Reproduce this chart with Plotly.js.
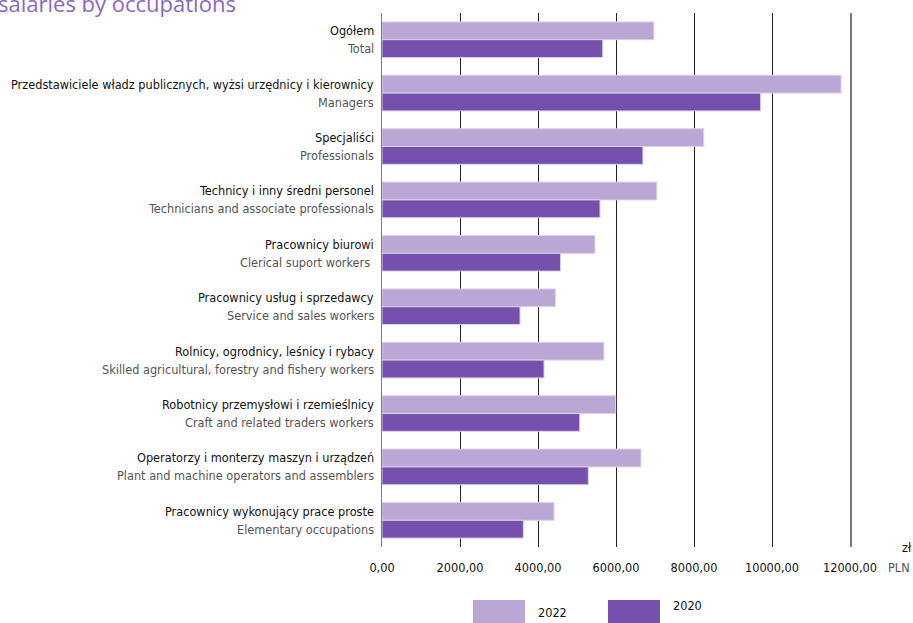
<!DOCTYPE html>
<html>
<head>
<meta charset="utf-8">
<script src="https://cdn.plot.ly/plotly-3.0.1.min.js"></script>
<style>html,body{margin:0;padding:0;background:#fff;}#chart{width:913px;height:623px;}</style>
</head>
<body>
<div id="chart"></div>
<script>
const categoriesPL = [
  "Ogółem",
  "Przedstawiciele władz publicznych, wyżsi urzędnicy i kierownicy",
  "Specjaliści",
  "Technicy i inny średni personel",
  "Pracownicy biurowi",
  "Pracownicy usług i sprzedawcy",
  "Rolnicy, ogrodnicy, leśnicy i rybacy",
  "Robotnicy przemysłowi i rzemieślnicy",
  "Operatorzy i monterzy maszyn i urządzeń",
  "Pracownicy wykonujący prace proste"
];
const categoriesEN = [
  "Total",
  "Managers",
  "Professionals",
  "Technicians and associate professionals",
  "Clerical suport workers ",
  "Service and sales workers",
  "Skilled agricultural, forestry and fishery workers",
  "Craft and related traders workers",
  "Plant and machine operators and assemblers",
  "Elementary occupations"
];
const values2022 = [6970, 11770, 8250, 7045, 5460, 4445, 5690, 5990, 6640, 4410];
const values2020 = [5660, 9710, 6690, 5590, 4580, 3540, 4155, 5070, 5290, 3625];
const seriesNames = ["2022", "2020"];
const tickValues = [0, 2000, 4000, 6000, 8000, 10000, 12000];

const colors = ["#BAA7D5", "#7551AD"];
const labelFont = "'DejaVu Sans Condensed', 'Liberation Sans Narrow', sans-serif";
const fs = 12.6;

const traces = [values2022, values2020].map((vals, i) => ({
  type: "bar",
  orientation: "h",
  name: seriesNames[i],
  x: vals,
  y: categoriesPL,
  marker: {color: colors[i], line: {color: "#DCD2EA", width: 1}},
  hoverinfo: "x+y"
}));

const annotations = [];
categoriesPL.forEach((c, i) => {
  annotations.push({xref: "paper", yref: "y", x: -0.012, y: c, xanchor: "right", yanchor: "middle",
    yshift: 9, text: c, showarrow: false, font: {family: labelFont, size: fs, color: "#111"}});
  annotations.push({xref: "paper", yref: "y", x: -0.012, y: c, xanchor: "right", yanchor: "middle",
    yshift: -9, text: categoriesEN[i], showarrow: false, font: {family: labelFont, size: fs, color: "#555"}});
});
// title (cut at left/top in the reference)
annotations.push({xref: "paper", yref: "paper", x: -0.825, y: 1.018, xanchor: "left", yanchor: "middle",
  text: "salaries by occupations", showarrow: false, font: {family: "'Open Sans', sans-serif", size: 22, color: "#8A68C2"}});
// unit labels
annotations.push({xref: "paper", yref: "paper", x: 1.106, y: 0.0, xanchor: "left", yanchor: "middle",
  text: "zł", showarrow: false, font: {family: labelFont, size: fs, color: "#111"}});
annotations.push({xref: "paper", yref: "paper", x: 1.077, y: -0.0375, xanchor: "left", yanchor: "middle",
  text: "PLN", showarrow: false, font: {family: labelFont, size: fs, color: "#555"}});
// legend labels
annotations.push({xref: "paper", yref: "paper", x: 0.365, y: -0.122, xanchor: "center", yanchor: "middle",
  text: seriesNames[0], showarrow: false, font: {family: labelFont, size: fs, color: "#111"}});
annotations.push({xref: "paper", yref: "paper", x: 0.653, y: -0.109, xanchor: "center", yanchor: "middle",
  text: seriesNames[1], showarrow: false, font: {family: labelFont, size: fs, color: "#111"}});

const shapes = [
  {type: "rect", xref: "paper", yref: "paper", x0: 0.1944, x1: 0.3056, y0: -0.0993, y1: -0.17,
   fillcolor: colors[0], line: {width: 0}},
  {type: "rect", xref: "paper", yref: "paper", x0: 0.4829, x1: 0.594, y0: -0.0993, y1: -0.17,
   fillcolor: colors[1], line: {width: 0}}
];

const layout = {
  width: 913, height: 623,
  margin: {l: 382, r: 63, t: 13, b: 76},
  paper_bgcolor: "#fff", plot_bgcolor: "#fff",
  barmode: "group", bargap: 0.333, bargroupgap: 0,
  showlegend: false,
  separators: ",.",
  xaxis: {
    range: [0, 12000], tickvals: tickValues, tickformat: ".2f",
    showgrid: true, gridcolor: "#222", gridwidth: 1, zeroline: false,
    ticks: "", ticklabelstandoff: 11,
    tickfont: {family: labelFont, size: fs, color: "#111"},
    fixedrange: true
  },
  yaxis: {
    type: "category", autorange: "reversed", showticklabels: false,
    showgrid: false, zeroline: false,
    showline: true, mirror: true, linecolor: "#7a7a7a", linewidth: 1.5,
    fixedrange: true
  },
  annotations: annotations,
  shapes: shapes
};

Plotly.newPlot("chart", traces, layout, {displayModeBar: false, staticPlot: true});
</script>
</body>
</html>
